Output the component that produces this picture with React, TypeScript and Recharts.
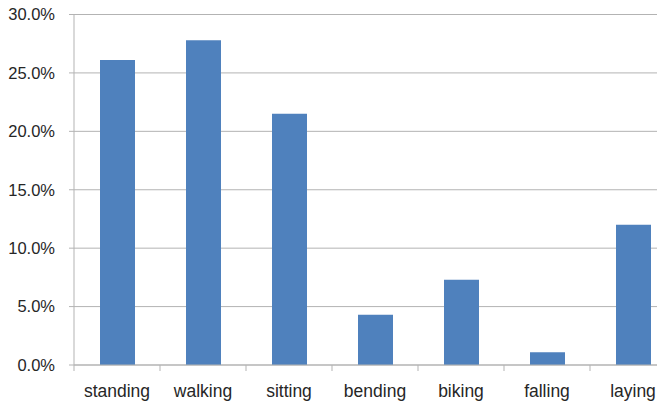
import React from 'react';
import { BarChart, Bar, XAxis, YAxis, CartesianGrid } from 'recharts';

// Share of samples per activity class, in percent
const activities = ['standing', 'walking', 'sitting', 'bending', 'biking', 'falling', 'laying'];
const shares = [26.1, 27.8, 21.5, 4.3, 7.3, 1.1, 12.0];
const yTicks = [0, 5, 10, 15, 20, 25, 30];

const data = activities.map((name, i) => ({ name, share: shares[i] }));

const FONT = '"Liberation Sans", Arial, sans-serif';
const TEXT = '#262626';
const LINE = '#b3b3b3';

// Category label centred under the bar, with a tick mark on the left band boundary
const CategoryTick = (props: any) => {
  const { x, y, payload, width, visibleTicksCount } = props;
  const half = width / visibleTicksCount / 2;
  return (
    <g>
      <line x1={x - half} x2={x - half} y1={y - 6} y2={y} stroke={LINE} strokeWidth={1} />
      <text x={x} y={y} dy={26} textAnchor="middle" fill={TEXT} fontSize={17.5} fontFamily={FONT}>
        {payload.value}
      </text>
    </g>
  );
};

export default function App() {
  return (
    <div
      style={{
        position: 'absolute',
        left: 0,
        top: 0,
        width: 657,
        height: 403,
        overflow: 'hidden',
        background: '#fff',
      }}
    >
      <BarChart
        width={680}
        height={403}
        data={data}
        margin={{ top: 14.5, right: 4, bottom: 0, left: 0 }}
        barCategoryGap="30%"
      >
        <CartesianGrid vertical={false} stroke={LINE} strokeDasharray="" />
        <XAxis
          dataKey="name"
          height={38}
          axisLine={{ stroke: LINE }}
          tickLine={{ stroke: 'none' }}
          tickSize={6}
          tickMargin={0}
          interval={0}
          tick={<CategoryTick />}
        />
        <YAxis
          width={74}
          domain={[0, 30]}
          ticks={yTicks}
          interval={0}
          axisLine={{ stroke: LINE }}
          tickLine={{ stroke: LINE }}
          tickSize={5}
          tickMargin={14}
          tickFormatter={(v: number) => `${v.toFixed(1)}%`}
          tick={{ fill: TEXT, fontSize: 16.5, fontFamily: FONT }}
        />
        <Bar dataKey="share" fill="#4F81BD" barSize={35} isAnimationActive={false} />
      </BarChart>
    </div>
  );
}
